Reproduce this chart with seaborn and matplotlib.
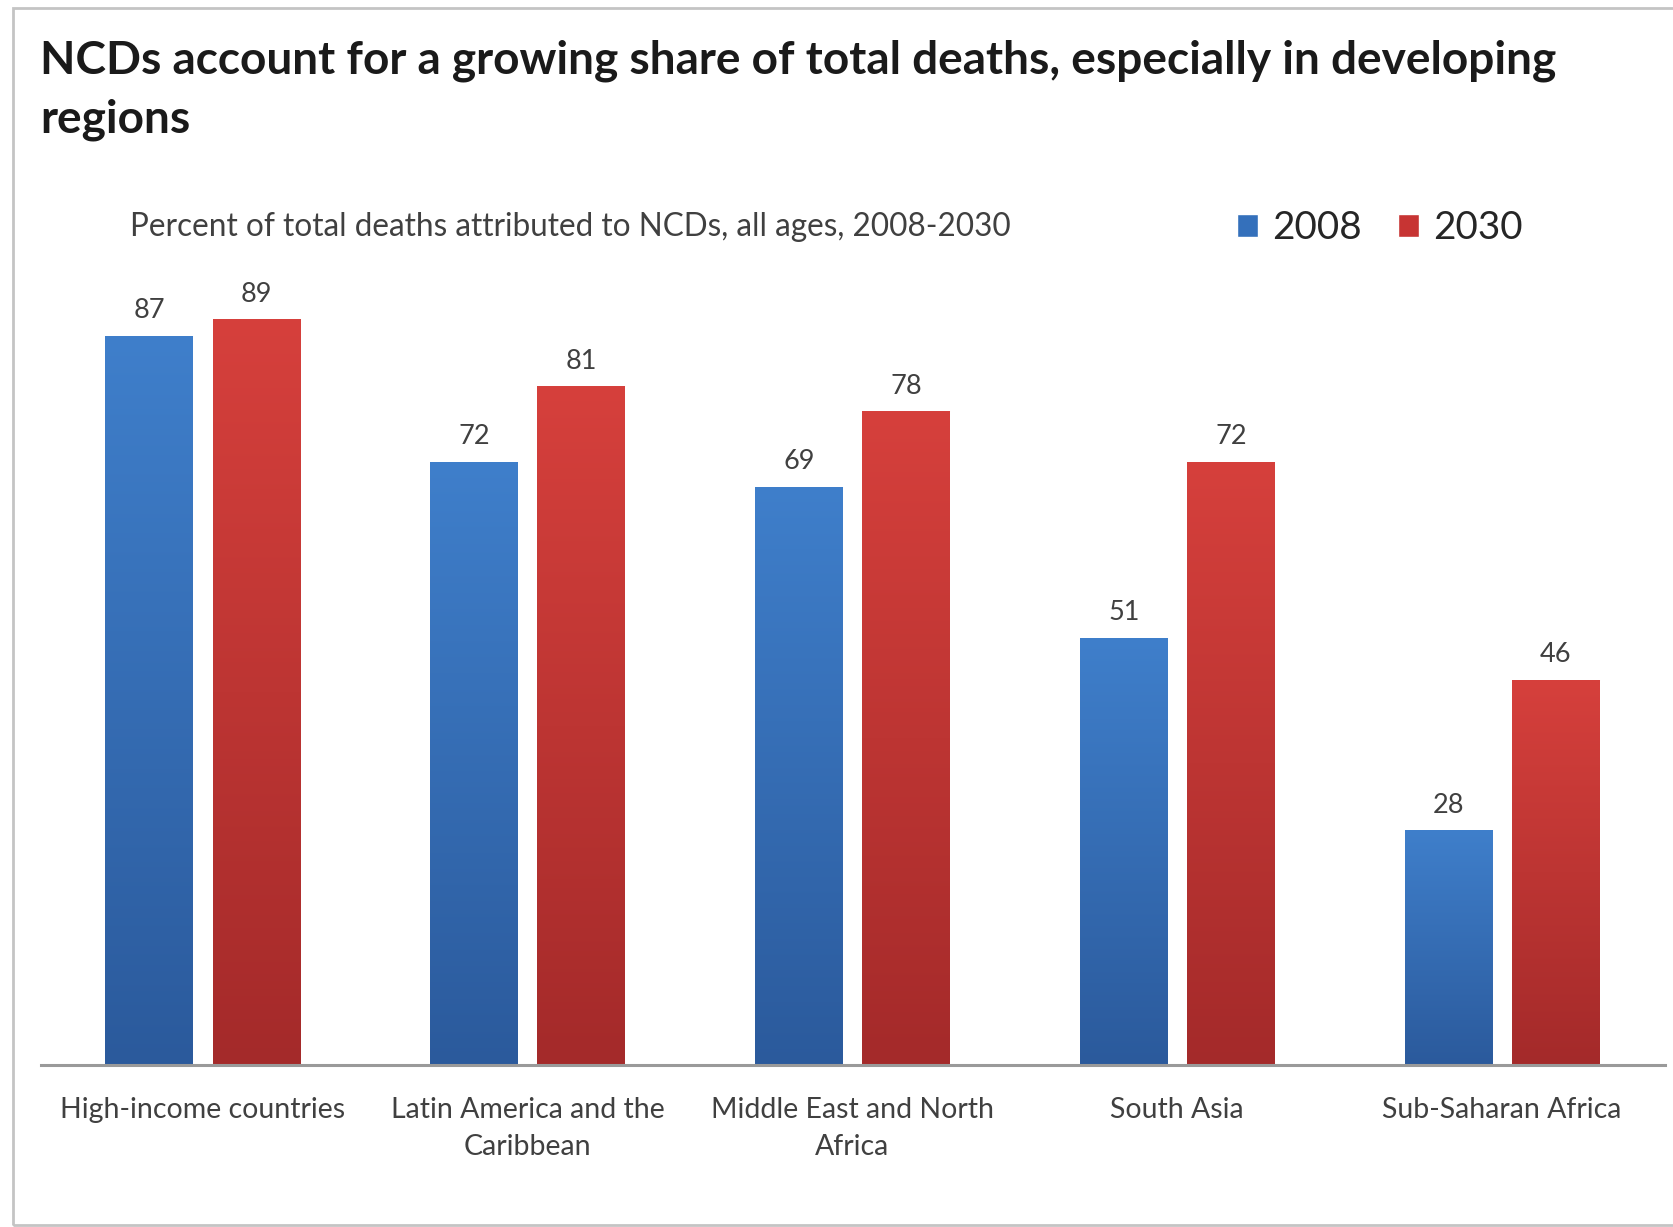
import numpy as np
import pandas as pd
import matplotlib
matplotlib.use("Agg")
import matplotlib.pyplot as plt
import matplotlib.colors as mcolors
from matplotlib.patches import Rectangle
import seaborn as sns

# ---- data ----
regions = ["High-income countries", "Latin America and the\nCaribbean",
           "Middle East and North\nAfrica", "South Asia", "Sub-Saharan Africa"]
years = ["2008", "2030"]
values_2008 = [87, 72, 69, 51, 28]
values_2030 = [89, 81, 78, 72, 46]

title = "NCDs account for a growing share of total deaths, especially in developing\nregions"
subtitle = "Percent of total deaths attributed to NCDs, all ages, 2008-2030"

df = pd.DataFrame({
    "region": regions * 2,
    "year": [years[0]] * len(regions) + [years[1]] * len(regions),
    "value": values_2008 + values_2030,
})

sns.set_theme(style="white")
plt.rcParams["font.family"] = ["Lato", "DejaVu Sans"]

W, H = 1673, 1227
fig = plt.figure(figsize=(W / 100, H / 100), dpi=100)
ax = fig.add_axes([40.5 / W, 1 - 1065 / H, (1664.5 - 40.5) / W, (1065 - 227) / H])

palette = {"2008": "#3470BB", "2030": "#C73433"}
grad = {"2008": ("#3F7FCB", "#2B5A9C"), "2030": ("#D6403C", "#A42A2A")}

sns.barplot(data=df, x="region", y="value", hue="year", hue_order=years,
            order=regions, palette=palette, width=0.66, gap=0.18,
            saturation=1, ax=ax, legend=True)

# gradient fill for each bar
for cont, yr in zip(ax.containers, years):
    top_c, bot_c = grad[yr]
    cmap = mcolors.LinearSegmentedColormap.from_list("g" + yr, [bot_c, top_c])
    for p in cont.patches:
        x0, w, h = p.get_x(), p.get_width(), p.get_height()
        g = np.linspace(0, 1, 256).reshape(-1, 1)
        im = ax.imshow(g, cmap=cmap, origin="lower", aspect="auto",
                       extent=[x0, x0 + w, 0, h], zorder=p.get_zorder() + 0.1)
        im.set_clip_path(p)
    ax.bar_label(cont, fmt="%d", padding=9, fontsize=19.5, color="#404040")

ax.set_xlim(-0.5, len(regions) - 0.5)
ax.set_ylim(0, 100)

for s in ["top", "right", "left"]:
    ax.spines[s].set_visible(False)
ax.spines["bottom"].set_color("#9A9A9A")
ax.spines["bottom"].set_linewidth(2.2)
ax.set_yticks([])
ax.set_xlabel("")
ax.set_ylabel("")
ax.tick_params(axis="x", length=0, pad=23, labelsize=20.5, labelcolor="#404040")
for lab in ax.get_xticklabels():
    lab.set_linespacing(1.55)

# legend
handles, labels = ax.get_legend_handles_labels()
ax.legend(handles, labels, loc="center left", bbox_to_anchor=(1237 / W, 1 - 228 / H),
          bbox_transform=fig.transFigure, ncol=2, frameon=False, fontsize=27.8,
          handlelength=0.55, handleheight=0.55, handletextpad=0.35,
          columnspacing=0.95, borderpad=0, borderaxespad=0,
          labelcolor="#262626")

fig.text(40 / W, 1 - 40 / H, title, ha="left", va="top", fontsize=33.1,
         fontweight="bold", color="#1A1A1A", linespacing=1.48)
fig.text(130 / W, 1 - 227 / H, subtitle, ha="left", va="center", fontsize=22.7,
         color="#404040")

# outer frame
fig.patches.append(Rectangle((13 / W, 2 / H), 1.2, 1 - 10 / H, transform=fig.transFigure,
                             fill=False, edgecolor="#C4C4C4", linewidth=2))

fig.savefig("out.png", dpi=100)
